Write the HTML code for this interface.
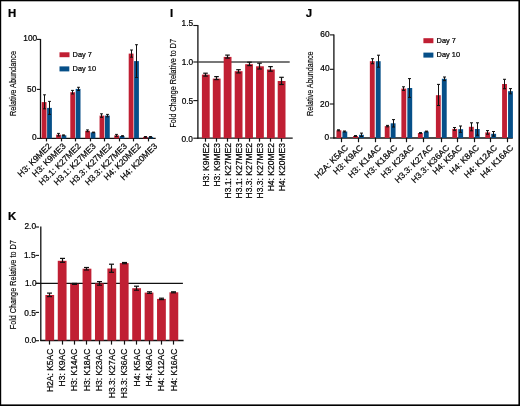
<!DOCTYPE html>
<html><head><meta charset="utf-8"><title>Figure</title>
<style>
html,body{margin:0;padding:0;background:#fff;}
body{width:520px;height:406px;overflow:hidden;}
svg{display:block;will-change:transform;}
text{font-family:"Liberation Sans", sans-serif;fill:#000;stroke:#000;stroke-width:0.22px;}
text.t{stroke:#000;stroke-width:0.15px;fill:#000;}
</style></head>
<body>
<svg width="520" height="406" viewBox="0 0 520 406">
<rect x="0" y="0" width="520" height="406" fill="#fff"/>
<rect x="0.00" y="0.00" width="520.00" height="1.30" fill="#000"/>
<rect x="0.00" y="0.00" width="1.20" height="406.00" fill="#000"/>
<rect x="518.40" y="0.00" width="1.60" height="406.00" fill="#000"/>
<rect x="0.00" y="404.40" width="520.00" height="1.60" fill="#000"/>
<text x="8.10" y="16.90" font-size="11.4" text-anchor="start" font-weight="bold" >H</text>
<text x="170.00" y="16.90" font-size="11.4" text-anchor="start" font-weight="bold" >I</text>
<text x="305.70" y="16.90" font-size="11.4" text-anchor="start" font-weight="bold" >J</text>
<text x="8.10" y="219.70" font-size="11.4" text-anchor="start" font-weight="bold" >K</text>
<line x1="40.50" y1="39.00" x2="40.50" y2="138.90" stroke="#111" stroke-width="1.3"/>
<line x1="40.00" y1="138.40" x2="155.70" y2="138.40" stroke="#111" stroke-width="1.3"/>
<line x1="36.90" y1="39.40" x2="40.50" y2="39.40" stroke="#111" stroke-width="1.1"/>
<text x="37.15" y="41.00" font-size="8.3" text-anchor="end" font-weight="normal" >100</text>
<line x1="36.90" y1="89.40" x2="40.50" y2="89.40" stroke="#111" stroke-width="1.1"/>
<text x="36.35" y="92.20" font-size="8.3" text-anchor="end" font-weight="normal" >50</text>
<line x1="36.90" y1="138.40" x2="40.50" y2="138.40" stroke="#111" stroke-width="1.1"/>
<text x="36.65" y="140.20" font-size="8.3" text-anchor="end" font-weight="normal" >0</text>
<text class="t" transform="translate(15.80,116.00) rotate(-90)" font-size="9.3" textLength="65.00" lengthAdjust="spacingAndGlyphs">Relative Abundance</text>
<rect x="59.50" y="52.30" width="10.00" height="4.90" fill="#c01f33"/>
<rect x="59.50" y="66.40" width="9.80" height="5.00" fill="#064f88"/>
<text x="72.60" y="56.90" font-size="7.4" text-anchor="start" font-weight="normal" >Day 7</text>
<text x="72.60" y="71.00" font-size="7.4" text-anchor="start" font-weight="normal" >Day 10</text>
<rect x="41.70" y="102.10" width="4.80" height="36.30" fill="#c01f33"/>
<rect x="47.10" y="107.90" width="4.80" height="30.50" fill="#064f88"/>
<line x1="44.50" y1="94.80" x2="44.50" y2="108.80" stroke="#111" stroke-width="1.05"/>
<line x1="43.10" y1="94.80" x2="45.90" y2="94.80" stroke="#111" stroke-width="1.05"/>
<line x1="43.10" y1="108.80" x2="45.90" y2="108.80" stroke="#111" stroke-width="1.05"/>
<line x1="49.50" y1="101.40" x2="49.50" y2="114.40" stroke="#111" stroke-width="1.05"/>
<line x1="48.10" y1="101.40" x2="50.90" y2="101.40" stroke="#111" stroke-width="1.05"/>
<line x1="48.10" y1="114.40" x2="50.90" y2="114.40" stroke="#111" stroke-width="1.05"/>
<line x1="46.50" y1="138.40" x2="46.50" y2="141.40" stroke="#111" stroke-width="1.2"/>
<text transform="translate(51.84,146.64) rotate(-45)" font-size="8.5" text-anchor="end">H3: K9ME2</text>
<rect x="56.15" y="134.70" width="4.80" height="3.70" fill="#c01f33"/>
<rect x="61.55" y="135.30" width="4.80" height="3.10" fill="#064f88"/>
<line x1="58.50" y1="133.40" x2="58.50" y2="136.00" stroke="#111" stroke-width="1.05"/>
<line x1="57.10" y1="133.40" x2="59.90" y2="133.40" stroke="#111" stroke-width="1.05"/>
<line x1="57.10" y1="136.00" x2="59.90" y2="136.00" stroke="#111" stroke-width="1.05"/>
<line x1="63.50" y1="134.90" x2="63.50" y2="135.70" stroke="#111" stroke-width="1.05"/>
<line x1="62.10" y1="134.90" x2="64.90" y2="134.90" stroke="#111" stroke-width="1.05"/>
<line x1="62.10" y1="135.70" x2="64.90" y2="135.70" stroke="#111" stroke-width="1.05"/>
<line x1="61.50" y1="138.40" x2="61.50" y2="141.40" stroke="#111" stroke-width="1.2"/>
<text transform="translate(66.29,146.64) rotate(-45)" font-size="8.5" text-anchor="end">H3: K9ME3</text>
<rect x="70.30" y="92.20" width="4.80" height="46.20" fill="#c01f33"/>
<rect x="75.70" y="88.90" width="4.80" height="49.50" fill="#064f88"/>
<line x1="72.50" y1="90.40" x2="72.50" y2="94.00" stroke="#111" stroke-width="1.05"/>
<line x1="71.10" y1="90.40" x2="73.90" y2="90.40" stroke="#111" stroke-width="1.05"/>
<line x1="71.10" y1="94.00" x2="73.90" y2="94.00" stroke="#111" stroke-width="1.05"/>
<line x1="78.50" y1="87.30" x2="78.50" y2="90.50" stroke="#111" stroke-width="1.05"/>
<line x1="77.10" y1="87.30" x2="79.90" y2="87.30" stroke="#111" stroke-width="1.05"/>
<line x1="77.10" y1="90.50" x2="79.90" y2="90.50" stroke="#111" stroke-width="1.05"/>
<line x1="75.50" y1="138.40" x2="75.50" y2="141.40" stroke="#111" stroke-width="1.2"/>
<text transform="translate(81.44,146.64) rotate(-45)" font-size="8.5" text-anchor="end">H3.1: K27ME2</text>
<rect x="85.20" y="130.80" width="4.80" height="7.60" fill="#c01f33"/>
<rect x="90.60" y="132.40" width="4.80" height="6.00" fill="#064f88"/>
<line x1="87.50" y1="129.90" x2="87.50" y2="131.70" stroke="#111" stroke-width="1.05"/>
<line x1="86.10" y1="129.90" x2="88.90" y2="129.90" stroke="#111" stroke-width="1.05"/>
<line x1="86.10" y1="131.70" x2="88.90" y2="131.70" stroke="#111" stroke-width="1.05"/>
<line x1="93.50" y1="132.10" x2="93.50" y2="132.70" stroke="#111" stroke-width="1.05"/>
<line x1="92.10" y1="132.10" x2="94.90" y2="132.10" stroke="#111" stroke-width="1.05"/>
<line x1="92.10" y1="132.70" x2="94.90" y2="132.70" stroke="#111" stroke-width="1.05"/>
<line x1="90.50" y1="138.40" x2="90.50" y2="141.40" stroke="#111" stroke-width="1.2"/>
<text transform="translate(96.34,146.64) rotate(-45)" font-size="8.5" text-anchor="end">H3.1: K27ME3</text>
<rect x="99.55" y="115.60" width="4.80" height="22.80" fill="#c01f33"/>
<rect x="104.95" y="115.60" width="4.80" height="22.80" fill="#064f88"/>
<line x1="101.50" y1="113.80" x2="101.50" y2="117.40" stroke="#111" stroke-width="1.05"/>
<line x1="100.10" y1="113.80" x2="102.90" y2="113.80" stroke="#111" stroke-width="1.05"/>
<line x1="100.10" y1="117.40" x2="102.90" y2="117.40" stroke="#111" stroke-width="1.05"/>
<line x1="107.50" y1="114.40" x2="107.50" y2="116.80" stroke="#111" stroke-width="1.05"/>
<line x1="106.10" y1="114.40" x2="108.90" y2="114.40" stroke="#111" stroke-width="1.05"/>
<line x1="106.10" y1="116.80" x2="108.90" y2="116.80" stroke="#111" stroke-width="1.05"/>
<line x1="104.50" y1="138.40" x2="104.50" y2="141.40" stroke="#111" stroke-width="1.2"/>
<text transform="translate(112.29,146.64) rotate(-45)" font-size="8.5" text-anchor="end">H3.3: K27ME2</text>
<rect x="114.25" y="135.40" width="4.80" height="3.00" fill="#c01f33"/>
<rect x="119.65" y="136.00" width="4.80" height="2.40" fill="#064f88"/>
<line x1="116.50" y1="134.40" x2="116.50" y2="136.40" stroke="#111" stroke-width="1.05"/>
<line x1="115.10" y1="134.40" x2="117.90" y2="134.40" stroke="#111" stroke-width="1.05"/>
<line x1="115.10" y1="136.40" x2="117.90" y2="136.40" stroke="#111" stroke-width="1.05"/>
<line x1="122.50" y1="135.70" x2="122.50" y2="136.30" stroke="#111" stroke-width="1.05"/>
<line x1="121.10" y1="135.70" x2="123.90" y2="135.70" stroke="#111" stroke-width="1.05"/>
<line x1="121.10" y1="136.30" x2="123.90" y2="136.30" stroke="#111" stroke-width="1.05"/>
<line x1="119.50" y1="138.40" x2="119.50" y2="141.40" stroke="#111" stroke-width="1.2"/>
<text transform="translate(127.59,146.64) rotate(-45)" font-size="8.5" text-anchor="end">H3.3: K27ME3</text>
<rect x="128.70" y="53.60" width="4.80" height="84.80" fill="#c01f33"/>
<rect x="134.10" y="61.10" width="4.80" height="77.30" fill="#064f88"/>
<line x1="131.50" y1="50.00" x2="131.50" y2="57.20" stroke="#111" stroke-width="1.05"/>
<line x1="130.10" y1="50.00" x2="132.90" y2="50.00" stroke="#111" stroke-width="1.05"/>
<line x1="130.10" y1="57.20" x2="132.90" y2="57.20" stroke="#111" stroke-width="1.05"/>
<line x1="136.50" y1="44.70" x2="136.50" y2="77.50" stroke="#111" stroke-width="1.05"/>
<line x1="135.10" y1="44.70" x2="137.90" y2="44.70" stroke="#111" stroke-width="1.05"/>
<line x1="135.10" y1="77.50" x2="137.90" y2="77.50" stroke="#111" stroke-width="1.05"/>
<line x1="133.50" y1="138.40" x2="133.50" y2="141.40" stroke="#111" stroke-width="1.2"/>
<text transform="translate(141.24,146.64) rotate(-45)" font-size="8.5" text-anchor="end">H4: K20ME2</text>
<rect x="143.00" y="136.90" width="4.80" height="1.50" fill="#c01f33"/>
<rect x="148.40" y="136.90" width="4.80" height="1.50" fill="#064f88"/>
<line x1="145.50" y1="136.50" x2="145.50" y2="137.30" stroke="#111" stroke-width="1.05"/>
<line x1="144.10" y1="136.50" x2="146.90" y2="136.50" stroke="#111" stroke-width="1.05"/>
<line x1="144.10" y1="137.30" x2="146.90" y2="137.30" stroke="#111" stroke-width="1.05"/>
<line x1="150.50" y1="136.50" x2="150.50" y2="137.30" stroke="#111" stroke-width="1.05"/>
<line x1="149.10" y1="136.50" x2="151.90" y2="136.50" stroke="#111" stroke-width="1.05"/>
<line x1="149.10" y1="137.30" x2="151.90" y2="137.30" stroke="#111" stroke-width="1.05"/>
<line x1="148.50" y1="138.40" x2="148.50" y2="141.40" stroke="#111" stroke-width="1.2"/>
<text transform="translate(157.74,146.64) rotate(-45)" font-size="8.5" text-anchor="end">H4: K20ME3</text>
<line x1="197.90" y1="25.00" x2="197.90" y2="138.70" stroke="#111" stroke-width="1.3"/>
<line x1="197.90" y1="62.00" x2="289.70" y2="62.00" stroke="#4a4a4a" stroke-width="1.7"/>
<line x1="197.40" y1="138.20" x2="292.70" y2="138.20" stroke="#111" stroke-width="1.3"/>
<line x1="193.30" y1="25.50" x2="197.90" y2="25.50" stroke="#111" stroke-width="1.1"/>
<text x="193.15" y="25.50" font-size="8.3" text-anchor="end" font-weight="normal" >1.5</text>
<line x1="193.30" y1="62.00" x2="197.90" y2="62.00" stroke="#111" stroke-width="1.1"/>
<text x="193.25" y="64.70" font-size="8.3" text-anchor="end" font-weight="normal" >1.0</text>
<line x1="193.30" y1="100.60" x2="197.90" y2="100.60" stroke="#111" stroke-width="1.1"/>
<text x="193.25" y="103.50" font-size="8.3" text-anchor="end" font-weight="normal" >0.5</text>
<line x1="193.30" y1="138.20" x2="197.90" y2="138.20" stroke="#111" stroke-width="1.1"/>
<text x="192.95" y="142.30" font-size="8.3" text-anchor="end" font-weight="normal" >0.0</text>
<text class="t" transform="translate(176.40,127.60) rotate(-90)" font-size="9.3" textLength="88.60" lengthAdjust="spacingAndGlyphs">Fold Change Relative to D7</text>
<rect x="201.90" y="74.60" width="7.80" height="63.60" fill="#c01f33"/>
<line x1="205.50" y1="73.20" x2="205.50" y2="76.10" stroke="#111" stroke-width="1.2"/>
<line x1="203.20" y1="73.20" x2="207.80" y2="73.20" stroke="#111" stroke-width="1.2"/>
<line x1="203.20" y1="76.10" x2="207.80" y2="76.10" stroke="#111" stroke-width="1.2"/>
<line x1="205.50" y1="138.20" x2="205.50" y2="141.70" stroke="#111" stroke-width="1.2"/>
<text transform="translate(208.72,143.10) rotate(-90)" font-size="8.5" text-anchor="end">H3: K9ME2</text>
<rect x="212.80" y="78.60" width="7.80" height="59.60" fill="#c01f33"/>
<line x1="216.50" y1="76.60" x2="216.50" y2="79.60" stroke="#111" stroke-width="1.2"/>
<line x1="214.20" y1="76.60" x2="218.80" y2="76.60" stroke="#111" stroke-width="1.2"/>
<line x1="214.20" y1="79.60" x2="218.80" y2="79.60" stroke="#111" stroke-width="1.2"/>
<line x1="216.50" y1="138.20" x2="216.50" y2="141.70" stroke="#111" stroke-width="1.2"/>
<text transform="translate(219.62,143.10) rotate(-90)" font-size="8.5" text-anchor="end">H3: K9ME3</text>
<rect x="223.70" y="56.90" width="7.80" height="81.30" fill="#c01f33"/>
<line x1="227.50" y1="55.10" x2="227.50" y2="58.10" stroke="#111" stroke-width="1.2"/>
<line x1="225.20" y1="55.10" x2="229.80" y2="55.10" stroke="#111" stroke-width="1.2"/>
<line x1="225.20" y1="58.10" x2="229.80" y2="58.10" stroke="#111" stroke-width="1.2"/>
<line x1="227.50" y1="138.20" x2="227.50" y2="141.70" stroke="#111" stroke-width="1.2"/>
<text transform="translate(230.52,143.10) rotate(-90)" font-size="8.5" text-anchor="end">H3.1: K27ME2</text>
<rect x="234.70" y="71.20" width="7.80" height="67.00" fill="#c01f33"/>
<line x1="238.50" y1="69.70" x2="238.50" y2="72.90" stroke="#111" stroke-width="1.2"/>
<line x1="236.20" y1="69.70" x2="240.80" y2="69.70" stroke="#111" stroke-width="1.2"/>
<line x1="236.20" y1="72.90" x2="240.80" y2="72.90" stroke="#111" stroke-width="1.2"/>
<line x1="238.50" y1="138.20" x2="238.50" y2="141.70" stroke="#111" stroke-width="1.2"/>
<text transform="translate(241.52,143.10) rotate(-90)" font-size="8.5" text-anchor="end">H3.1: K27ME3</text>
<rect x="245.15" y="64.20" width="7.80" height="74.00" fill="#c01f33"/>
<line x1="249.50" y1="62.20" x2="249.50" y2="65.60" stroke="#111" stroke-width="1.2"/>
<line x1="247.20" y1="62.20" x2="251.80" y2="62.20" stroke="#111" stroke-width="1.2"/>
<line x1="247.20" y1="65.60" x2="251.80" y2="65.60" stroke="#111" stroke-width="1.2"/>
<line x1="249.50" y1="138.20" x2="249.50" y2="141.70" stroke="#111" stroke-width="1.2"/>
<text transform="translate(251.97,143.10) rotate(-90)" font-size="8.5" text-anchor="end">H3.3: K27ME2</text>
<rect x="256.05" y="66.30" width="7.80" height="71.90" fill="#c01f33"/>
<line x1="259.50" y1="63.20" x2="259.50" y2="69.00" stroke="#111" stroke-width="1.2"/>
<line x1="257.20" y1="63.20" x2="261.80" y2="63.20" stroke="#111" stroke-width="1.2"/>
<line x1="257.20" y1="69.00" x2="261.80" y2="69.00" stroke="#111" stroke-width="1.2"/>
<line x1="259.50" y1="138.20" x2="259.50" y2="141.70" stroke="#111" stroke-width="1.2"/>
<text transform="translate(262.87,143.10) rotate(-90)" font-size="8.5" text-anchor="end">H3.3: K27ME3</text>
<rect x="266.95" y="69.50" width="7.80" height="68.70" fill="#c01f33"/>
<line x1="270.50" y1="66.60" x2="270.50" y2="71.20" stroke="#111" stroke-width="1.2"/>
<line x1="268.20" y1="66.60" x2="272.80" y2="66.60" stroke="#111" stroke-width="1.2"/>
<line x1="268.20" y1="71.20" x2="272.80" y2="71.20" stroke="#111" stroke-width="1.2"/>
<line x1="270.50" y1="138.20" x2="270.50" y2="141.70" stroke="#111" stroke-width="1.2"/>
<text transform="translate(273.77,143.10) rotate(-90)" font-size="8.5" text-anchor="end">H4: K20ME2</text>
<rect x="277.70" y="81.00" width="7.80" height="57.20" fill="#c01f33"/>
<line x1="281.50" y1="77.30" x2="281.50" y2="84.50" stroke="#111" stroke-width="1.2"/>
<line x1="279.20" y1="77.30" x2="283.80" y2="77.30" stroke="#111" stroke-width="1.2"/>
<line x1="279.20" y1="84.50" x2="283.80" y2="84.50" stroke="#111" stroke-width="1.2"/>
<line x1="281.50" y1="138.20" x2="281.50" y2="141.70" stroke="#111" stroke-width="1.2"/>
<text transform="translate(284.52,143.10) rotate(-90)" font-size="8.5" text-anchor="end">H4: K20ME3</text>
<line x1="333.90" y1="34.50" x2="333.90" y2="138.50" stroke="#111" stroke-width="1.3"/>
<line x1="333.40" y1="138.00" x2="512.80" y2="138.00" stroke="#111" stroke-width="1.3"/>
<line x1="329.90" y1="34.90" x2="333.90" y2="34.90" stroke="#111" stroke-width="1.1"/>
<text x="329.55" y="36.80" font-size="8.3" text-anchor="end" font-weight="normal" >60</text>
<line x1="329.90" y1="69.30" x2="333.90" y2="69.30" stroke="#111" stroke-width="1.1"/>
<text x="329.55" y="71.40" font-size="8.3" text-anchor="end" font-weight="normal" >40</text>
<line x1="329.90" y1="104.00" x2="333.90" y2="104.00" stroke="#111" stroke-width="1.1"/>
<text x="329.25" y="107.30" font-size="8.3" text-anchor="end" font-weight="normal" >20</text>
<line x1="329.90" y1="138.00" x2="333.90" y2="138.00" stroke="#111" stroke-width="1.1"/>
<text x="329.15" y="140.20" font-size="8.3" text-anchor="end" font-weight="normal" >0</text>
<text class="t" transform="translate(312.80,116.00) rotate(-90)" font-size="9.3" textLength="64.60" lengthAdjust="spacingAndGlyphs">Relative Abundance</text>
<rect x="423.40" y="38.20" width="10.00" height="5.00" fill="#c01f33"/>
<rect x="423.40" y="52.60" width="10.00" height="5.00" fill="#064f88"/>
<text x="436.60" y="42.70" font-size="7.4" text-anchor="start" font-weight="normal" >Day 7</text>
<text x="436.60" y="57.10" font-size="7.4" text-anchor="start" font-weight="normal" >Day 10</text>
<rect x="336.45" y="130.30" width="4.85" height="7.70" fill="#c01f33"/>
<rect x="342.40" y="131.50" width="4.85" height="6.50" fill="#064f88"/>
<line x1="338.50" y1="129.80" x2="338.50" y2="130.80" stroke="#111" stroke-width="1.05"/>
<line x1="337.00" y1="129.80" x2="340.00" y2="129.80" stroke="#111" stroke-width="1.05"/>
<line x1="337.00" y1="130.80" x2="340.00" y2="130.80" stroke="#111" stroke-width="1.05"/>
<line x1="344.50" y1="131.00" x2="344.50" y2="132.00" stroke="#111" stroke-width="1.05"/>
<line x1="343.00" y1="131.00" x2="346.00" y2="131.00" stroke="#111" stroke-width="1.05"/>
<line x1="343.00" y1="132.00" x2="346.00" y2="132.00" stroke="#111" stroke-width="1.05"/>
<line x1="341.50" y1="138.00" x2="341.50" y2="142.20" stroke="#111" stroke-width="1.2"/>
<text transform="translate(348.69,148.34) rotate(-45)" font-size="8.5" text-anchor="end">H2A: K5AC</text>
<rect x="353.05" y="136.00" width="4.85" height="2.00" fill="#c01f33"/>
<rect x="359.00" y="134.80" width="4.85" height="3.20" fill="#064f88"/>
<line x1="355.50" y1="135.60" x2="355.50" y2="136.40" stroke="#111" stroke-width="1.05"/>
<line x1="354.00" y1="135.60" x2="357.00" y2="135.60" stroke="#111" stroke-width="1.05"/>
<line x1="354.00" y1="136.40" x2="357.00" y2="136.40" stroke="#111" stroke-width="1.05"/>
<line x1="361.50" y1="133.10" x2="361.50" y2="136.50" stroke="#111" stroke-width="1.05"/>
<line x1="360.00" y1="133.10" x2="363.00" y2="133.10" stroke="#111" stroke-width="1.05"/>
<line x1="360.00" y1="136.50" x2="363.00" y2="136.50" stroke="#111" stroke-width="1.05"/>
<line x1="358.50" y1="138.00" x2="358.50" y2="142.20" stroke="#111" stroke-width="1.2"/>
<text transform="translate(363.29,148.34) rotate(-45)" font-size="8.5" text-anchor="end">H3: K9AC</text>
<rect x="369.85" y="61.20" width="4.85" height="76.80" fill="#c01f33"/>
<rect x="375.80" y="61.20" width="4.85" height="76.80" fill="#064f88"/>
<line x1="372.50" y1="58.70" x2="372.50" y2="63.70" stroke="#111" stroke-width="1.05"/>
<line x1="371.00" y1="58.70" x2="374.00" y2="58.70" stroke="#111" stroke-width="1.05"/>
<line x1="371.00" y1="63.70" x2="374.00" y2="63.70" stroke="#111" stroke-width="1.05"/>
<line x1="378.50" y1="55.20" x2="378.50" y2="67.20" stroke="#111" stroke-width="1.05"/>
<line x1="377.00" y1="55.20" x2="380.00" y2="55.20" stroke="#111" stroke-width="1.05"/>
<line x1="377.00" y1="67.20" x2="380.00" y2="67.20" stroke="#111" stroke-width="1.05"/>
<line x1="375.50" y1="138.00" x2="375.50" y2="142.20" stroke="#111" stroke-width="1.2"/>
<text transform="translate(381.59,148.34) rotate(-45)" font-size="8.5" text-anchor="end">H3: K14AC</text>
<rect x="384.75" y="126.10" width="4.85" height="11.90" fill="#c01f33"/>
<rect x="390.70" y="123.30" width="4.85" height="14.70" fill="#064f88"/>
<line x1="387.50" y1="125.40" x2="387.50" y2="126.80" stroke="#111" stroke-width="1.05"/>
<line x1="386.00" y1="125.40" x2="389.00" y2="125.40" stroke="#111" stroke-width="1.05"/>
<line x1="386.00" y1="126.80" x2="389.00" y2="126.80" stroke="#111" stroke-width="1.05"/>
<line x1="393.50" y1="119.60" x2="393.50" y2="127.00" stroke="#111" stroke-width="1.05"/>
<line x1="392.00" y1="119.60" x2="395.00" y2="119.60" stroke="#111" stroke-width="1.05"/>
<line x1="392.00" y1="127.00" x2="395.00" y2="127.00" stroke="#111" stroke-width="1.05"/>
<line x1="390.50" y1="138.00" x2="390.50" y2="142.20" stroke="#111" stroke-width="1.2"/>
<text transform="translate(397.89,148.34) rotate(-45)" font-size="8.5" text-anchor="end">H3: K18AC</text>
<rect x="401.40" y="88.60" width="4.85" height="49.40" fill="#c01f33"/>
<rect x="407.35" y="88.00" width="4.85" height="50.00" fill="#064f88"/>
<line x1="403.50" y1="86.80" x2="403.50" y2="90.40" stroke="#111" stroke-width="1.05"/>
<line x1="402.00" y1="86.80" x2="405.00" y2="86.80" stroke="#111" stroke-width="1.05"/>
<line x1="402.00" y1="90.40" x2="405.00" y2="90.40" stroke="#111" stroke-width="1.05"/>
<line x1="409.50" y1="78.60" x2="409.50" y2="97.40" stroke="#111" stroke-width="1.05"/>
<line x1="408.00" y1="78.60" x2="411.00" y2="78.60" stroke="#111" stroke-width="1.05"/>
<line x1="408.00" y1="97.40" x2="411.00" y2="97.40" stroke="#111" stroke-width="1.05"/>
<line x1="406.50" y1="138.00" x2="406.50" y2="142.20" stroke="#111" stroke-width="1.2"/>
<text transform="translate(414.44,148.34) rotate(-45)" font-size="8.5" text-anchor="end">H3: K23AC</text>
<rect x="417.90" y="133.00" width="4.85" height="5.00" fill="#c01f33"/>
<rect x="423.85" y="131.50" width="4.85" height="6.50" fill="#064f88"/>
<line x1="420.50" y1="132.60" x2="420.50" y2="133.40" stroke="#111" stroke-width="1.05"/>
<line x1="419.00" y1="132.60" x2="422.00" y2="132.60" stroke="#111" stroke-width="1.05"/>
<line x1="419.00" y1="133.40" x2="422.00" y2="133.40" stroke="#111" stroke-width="1.05"/>
<line x1="426.50" y1="131.10" x2="426.50" y2="131.90" stroke="#111" stroke-width="1.05"/>
<line x1="425.00" y1="131.10" x2="428.00" y2="131.10" stroke="#111" stroke-width="1.05"/>
<line x1="425.00" y1="131.90" x2="428.00" y2="131.90" stroke="#111" stroke-width="1.05"/>
<line x1="423.50" y1="138.00" x2="423.50" y2="142.20" stroke="#111" stroke-width="1.2"/>
<text transform="translate(433.24,148.34) rotate(-45)" font-size="8.5" text-anchor="end">H3.3: K27AC</text>
<rect x="435.90" y="95.20" width="4.85" height="42.80" fill="#c01f33"/>
<rect x="441.85" y="78.80" width="4.85" height="59.20" fill="#064f88"/>
<line x1="438.50" y1="84.40" x2="438.50" y2="105.50" stroke="#111" stroke-width="1.05"/>
<line x1="437.00" y1="84.40" x2="440.00" y2="84.40" stroke="#111" stroke-width="1.05"/>
<line x1="437.00" y1="105.50" x2="440.00" y2="105.50" stroke="#111" stroke-width="1.05"/>
<line x1="444.50" y1="77.00" x2="444.50" y2="80.60" stroke="#111" stroke-width="1.05"/>
<line x1="443.00" y1="77.00" x2="446.00" y2="77.00" stroke="#111" stroke-width="1.05"/>
<line x1="443.00" y1="80.60" x2="446.00" y2="80.60" stroke="#111" stroke-width="1.05"/>
<line x1="441.50" y1="138.00" x2="441.50" y2="142.20" stroke="#111" stroke-width="1.2"/>
<text transform="translate(449.84,148.34) rotate(-45)" font-size="8.5" text-anchor="end">H3.3: K36AC</text>
<rect x="452.30" y="128.90" width="4.85" height="9.10" fill="#c01f33"/>
<rect x="458.25" y="129.20" width="4.85" height="8.80" fill="#064f88"/>
<line x1="454.50" y1="127.50" x2="454.50" y2="130.30" stroke="#111" stroke-width="1.05"/>
<line x1="453.00" y1="127.50" x2="456.00" y2="127.50" stroke="#111" stroke-width="1.05"/>
<line x1="453.00" y1="130.30" x2="456.00" y2="130.30" stroke="#111" stroke-width="1.05"/>
<line x1="460.50" y1="126.00" x2="460.50" y2="132.40" stroke="#111" stroke-width="1.05"/>
<line x1="459.00" y1="126.00" x2="462.00" y2="126.00" stroke="#111" stroke-width="1.05"/>
<line x1="459.00" y1="132.40" x2="462.00" y2="132.40" stroke="#111" stroke-width="1.05"/>
<line x1="457.50" y1="138.00" x2="457.50" y2="142.20" stroke="#111" stroke-width="1.2"/>
<text transform="translate(462.64,148.34) rotate(-45)" font-size="8.5" text-anchor="end">H4: K5AC</text>
<rect x="468.90" y="126.80" width="4.85" height="11.20" fill="#c01f33"/>
<rect x="474.85" y="129.00" width="4.85" height="9.00" fill="#064f88"/>
<line x1="471.50" y1="122.80" x2="471.50" y2="130.80" stroke="#111" stroke-width="1.05"/>
<line x1="470.00" y1="122.80" x2="473.00" y2="122.80" stroke="#111" stroke-width="1.05"/>
<line x1="470.00" y1="130.80" x2="473.00" y2="130.80" stroke="#111" stroke-width="1.05"/>
<line x1="477.50" y1="122.80" x2="477.50" y2="135.20" stroke="#111" stroke-width="1.05"/>
<line x1="476.00" y1="122.80" x2="479.00" y2="122.80" stroke="#111" stroke-width="1.05"/>
<line x1="476.00" y1="135.20" x2="479.00" y2="135.20" stroke="#111" stroke-width="1.05"/>
<line x1="474.50" y1="138.00" x2="474.50" y2="142.20" stroke="#111" stroke-width="1.2"/>
<text transform="translate(479.54,148.34) rotate(-45)" font-size="8.5" text-anchor="end">H4: K8AC</text>
<rect x="485.30" y="132.40" width="4.85" height="5.60" fill="#c01f33"/>
<rect x="491.25" y="133.80" width="4.85" height="4.20" fill="#064f88"/>
<line x1="487.50" y1="130.60" x2="487.50" y2="134.20" stroke="#111" stroke-width="1.05"/>
<line x1="486.00" y1="130.60" x2="489.00" y2="130.60" stroke="#111" stroke-width="1.05"/>
<line x1="486.00" y1="134.20" x2="489.00" y2="134.20" stroke="#111" stroke-width="1.05"/>
<line x1="493.50" y1="131.50" x2="493.50" y2="136.10" stroke="#111" stroke-width="1.05"/>
<line x1="492.00" y1="131.50" x2="495.00" y2="131.50" stroke="#111" stroke-width="1.05"/>
<line x1="492.00" y1="136.10" x2="495.00" y2="136.10" stroke="#111" stroke-width="1.05"/>
<line x1="490.50" y1="138.00" x2="490.50" y2="142.20" stroke="#111" stroke-width="1.2"/>
<text transform="translate(497.54,148.34) rotate(-45)" font-size="8.5" text-anchor="end">H4: K12AC</text>
<rect x="502.10" y="84.00" width="4.85" height="54.00" fill="#c01f33"/>
<rect x="508.05" y="91.20" width="4.85" height="46.80" fill="#064f88"/>
<line x1="504.50" y1="79.30" x2="504.50" y2="88.70" stroke="#111" stroke-width="1.05"/>
<line x1="503.00" y1="79.30" x2="506.00" y2="79.30" stroke="#111" stroke-width="1.05"/>
<line x1="503.00" y1="88.70" x2="506.00" y2="88.70" stroke="#111" stroke-width="1.05"/>
<line x1="510.50" y1="88.60" x2="510.50" y2="93.80" stroke="#111" stroke-width="1.05"/>
<line x1="509.00" y1="88.60" x2="512.00" y2="88.60" stroke="#111" stroke-width="1.05"/>
<line x1="509.00" y1="93.80" x2="512.00" y2="93.80" stroke="#111" stroke-width="1.05"/>
<line x1="507.50" y1="138.00" x2="507.50" y2="142.20" stroke="#111" stroke-width="1.2"/>
<text transform="translate(513.74,148.34) rotate(-45)" font-size="8.5" text-anchor="end">H4: K16AC</text>
<line x1="40.80" y1="226.40" x2="40.80" y2="341.00" stroke="#111" stroke-width="1.3"/>
<line x1="36.40" y1="283.40" x2="182.90" y2="283.40" stroke="#111" stroke-width="1.2"/>
<line x1="40.30" y1="340.50" x2="183.60" y2="340.50" stroke="#111" stroke-width="1.3"/>
<line x1="35.60" y1="227.00" x2="39.00" y2="227.00" stroke="#111" stroke-width="1.1"/>
<text x="36.05" y="229.40" font-size="8.3" text-anchor="end" font-weight="normal" >2.0</text>
<line x1="35.60" y1="255.40" x2="39.00" y2="255.40" stroke="#111" stroke-width="1.1"/>
<text x="35.55" y="257.50" font-size="8.3" text-anchor="end" font-weight="normal" >1.5</text>
<line x1="35.60" y1="283.40" x2="39.00" y2="283.40" stroke="#111" stroke-width="1.1"/>
<text x="36.55" y="285.50" font-size="8.3" text-anchor="end" font-weight="normal" >1.0</text>
<line x1="35.60" y1="312.40" x2="39.00" y2="312.40" stroke="#111" stroke-width="1.1"/>
<text x="35.85" y="315.70" font-size="8.3" text-anchor="end" font-weight="normal" >0.5</text>
<line x1="35.60" y1="340.70" x2="39.00" y2="340.70" stroke="#111" stroke-width="1.1"/>
<text x="36.25" y="342.50" font-size="8.3" text-anchor="end" font-weight="normal" >0.0</text>
<text class="t" transform="translate(15.70,329.30) rotate(-90)" font-size="9.3" textLength="89.00" lengthAdjust="spacingAndGlyphs">Fold Change Relative to D7</text>
<rect x="45.35" y="295.00" width="8.80" height="45.50" fill="#c01f33"/>
<line x1="49.50" y1="293.10" x2="49.50" y2="296.60" stroke="#111" stroke-width="1.2"/>
<line x1="47.00" y1="293.10" x2="52.00" y2="293.10" stroke="#111" stroke-width="1.2"/>
<line x1="47.00" y1="296.60" x2="52.00" y2="296.60" stroke="#111" stroke-width="1.2"/>
<line x1="49.50" y1="340.50" x2="49.50" y2="344.60" stroke="#111" stroke-width="1.2"/>
<text transform="translate(52.67,348.60) rotate(-90)" font-size="8.5" text-anchor="end">H2A: K5AC</text>
<rect x="57.76" y="260.80" width="8.80" height="79.70" fill="#c01f33"/>
<line x1="62.50" y1="258.40" x2="62.50" y2="262.30" stroke="#111" stroke-width="1.2"/>
<line x1="60.00" y1="258.40" x2="65.00" y2="258.40" stroke="#111" stroke-width="1.2"/>
<line x1="60.00" y1="262.30" x2="65.00" y2="262.30" stroke="#111" stroke-width="1.2"/>
<line x1="62.50" y1="340.50" x2="62.50" y2="344.60" stroke="#111" stroke-width="1.2"/>
<text transform="translate(65.08,348.60) rotate(-90)" font-size="8.5" text-anchor="end">H3: K9AC</text>
<rect x="70.17" y="283.90" width="8.80" height="56.60" fill="#c01f33"/>
<line x1="74.50" y1="283.40" x2="74.50" y2="284.40" stroke="#111" stroke-width="1.2"/>
<line x1="72.00" y1="283.40" x2="77.00" y2="283.40" stroke="#111" stroke-width="1.2"/>
<line x1="72.00" y1="284.40" x2="77.00" y2="284.40" stroke="#111" stroke-width="1.2"/>
<line x1="74.50" y1="340.50" x2="74.50" y2="344.60" stroke="#111" stroke-width="1.2"/>
<text transform="translate(77.49,348.60) rotate(-90)" font-size="8.5" text-anchor="end">H3: K14AC</text>
<rect x="82.58" y="268.70" width="8.80" height="71.80" fill="#c01f33"/>
<line x1="86.50" y1="267.50" x2="86.50" y2="270.00" stroke="#111" stroke-width="1.2"/>
<line x1="84.00" y1="267.50" x2="89.00" y2="267.50" stroke="#111" stroke-width="1.2"/>
<line x1="84.00" y1="270.00" x2="89.00" y2="270.00" stroke="#111" stroke-width="1.2"/>
<line x1="86.50" y1="340.50" x2="86.50" y2="344.60" stroke="#111" stroke-width="1.2"/>
<text transform="translate(89.90,348.60) rotate(-90)" font-size="8.5" text-anchor="end">H3: K18AC</text>
<rect x="94.99" y="283.40" width="8.80" height="57.10" fill="#c01f33"/>
<line x1="99.50" y1="281.60" x2="99.50" y2="285.20" stroke="#111" stroke-width="1.2"/>
<line x1="97.00" y1="281.60" x2="102.00" y2="281.60" stroke="#111" stroke-width="1.2"/>
<line x1="97.00" y1="285.20" x2="102.00" y2="285.20" stroke="#111" stroke-width="1.2"/>
<line x1="99.50" y1="340.50" x2="99.50" y2="344.60" stroke="#111" stroke-width="1.2"/>
<text transform="translate(102.31,348.60) rotate(-90)" font-size="8.5" text-anchor="end">H3: K23AC</text>
<rect x="107.40" y="268.50" width="8.80" height="72.00" fill="#c01f33"/>
<line x1="111.50" y1="264.20" x2="111.50" y2="272.30" stroke="#111" stroke-width="1.2"/>
<line x1="109.00" y1="264.20" x2="114.00" y2="264.20" stroke="#111" stroke-width="1.2"/>
<line x1="109.00" y1="272.30" x2="114.00" y2="272.30" stroke="#111" stroke-width="1.2"/>
<line x1="111.50" y1="340.50" x2="111.50" y2="344.60" stroke="#111" stroke-width="1.2"/>
<text transform="translate(114.72,348.60) rotate(-90)" font-size="8.5" text-anchor="end">H3.3: K27AC</text>
<rect x="119.81" y="263.10" width="8.80" height="77.40" fill="#c01f33"/>
<line x1="124.50" y1="262.50" x2="124.50" y2="263.70" stroke="#111" stroke-width="1.2"/>
<line x1="122.00" y1="262.50" x2="127.00" y2="262.50" stroke="#111" stroke-width="1.2"/>
<line x1="122.00" y1="263.70" x2="127.00" y2="263.70" stroke="#111" stroke-width="1.2"/>
<line x1="124.50" y1="340.50" x2="124.50" y2="344.60" stroke="#111" stroke-width="1.2"/>
<text transform="translate(127.13,348.60) rotate(-90)" font-size="8.5" text-anchor="end">H3.3: K36AC</text>
<rect x="132.22" y="288.20" width="8.80" height="52.30" fill="#c01f33"/>
<line x1="136.50" y1="286.20" x2="136.50" y2="290.20" stroke="#111" stroke-width="1.2"/>
<line x1="134.00" y1="286.20" x2="139.00" y2="286.20" stroke="#111" stroke-width="1.2"/>
<line x1="134.00" y1="290.20" x2="139.00" y2="290.20" stroke="#111" stroke-width="1.2"/>
<line x1="136.50" y1="340.50" x2="136.50" y2="344.60" stroke="#111" stroke-width="1.2"/>
<text transform="translate(139.54,348.60) rotate(-90)" font-size="8.5" text-anchor="end">H4: K5AC</text>
<rect x="144.63" y="292.60" width="8.80" height="47.90" fill="#c01f33"/>
<line x1="149.50" y1="291.80" x2="149.50" y2="293.40" stroke="#111" stroke-width="1.2"/>
<line x1="147.00" y1="291.80" x2="152.00" y2="291.80" stroke="#111" stroke-width="1.2"/>
<line x1="147.00" y1="293.40" x2="152.00" y2="293.40" stroke="#111" stroke-width="1.2"/>
<line x1="149.50" y1="340.50" x2="149.50" y2="344.60" stroke="#111" stroke-width="1.2"/>
<text transform="translate(151.95,348.60) rotate(-90)" font-size="8.5" text-anchor="end">H4: K8AC</text>
<rect x="157.04" y="298.90" width="8.80" height="41.60" fill="#c01f33"/>
<line x1="161.50" y1="298.20" x2="161.50" y2="299.60" stroke="#111" stroke-width="1.2"/>
<line x1="159.00" y1="298.20" x2="164.00" y2="298.20" stroke="#111" stroke-width="1.2"/>
<line x1="159.00" y1="299.60" x2="164.00" y2="299.60" stroke="#111" stroke-width="1.2"/>
<line x1="161.50" y1="340.50" x2="161.50" y2="344.60" stroke="#111" stroke-width="1.2"/>
<text transform="translate(164.36,348.60) rotate(-90)" font-size="8.5" text-anchor="end">H4: K12AC</text>
<rect x="169.45" y="292.30" width="8.80" height="48.20" fill="#c01f33"/>
<line x1="173.50" y1="291.80" x2="173.50" y2="292.80" stroke="#111" stroke-width="1.2"/>
<line x1="171.00" y1="291.80" x2="176.00" y2="291.80" stroke="#111" stroke-width="1.2"/>
<line x1="171.00" y1="292.80" x2="176.00" y2="292.80" stroke="#111" stroke-width="1.2"/>
<line x1="173.50" y1="340.50" x2="173.50" y2="344.60" stroke="#111" stroke-width="1.2"/>
<text transform="translate(176.77,348.60) rotate(-90)" font-size="8.5" text-anchor="end">H4: K16AC</text>
</svg>
</body></html>
